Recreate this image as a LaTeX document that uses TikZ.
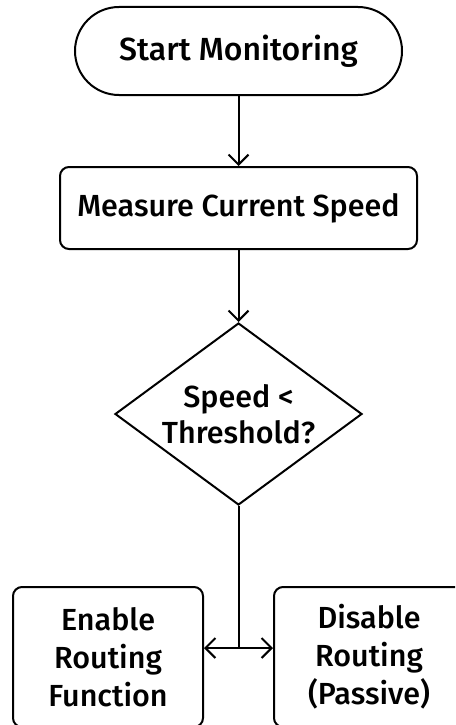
\documentclass[tikz,border=0pt]{standalone}
\usepackage{fontspec}
\setmainfont{Fira Sans Medium}
\usetikzlibrary{arrows.meta, shapes.geometric}

\tikzset{
  flowline/.style={line width=2pt},
  txt/.style={font=\fontsize{30.5}{38}\selectfont, align=center},
  terminal/.style={flowline, draw, rounded corners=44pt, minimum width=327pt, minimum height=88pt, inner sep=0pt},
  process/.style={flowline, draw, rounded corners=9pt, inner sep=0pt},
  decision/.style={flowline, draw, diamond, aspect=1.357, minimum width=247pt, minimum height=182pt, inner sep=0pt}
}

\begin{document}
\begin{tikzpicture}[x=1pt, y=-1pt, >={Straight Barb[length=10pt, width=20pt, line width=2pt]}]
  \useasboundingbox (0,0) rectangle (455,725);
  \begin{scope}
  \clip (0,0) rectangle (455,725);
  \node[terminal, txt, font=\fontsize{32}{38}\selectfont] (start) at (238.5,51) {Start Monitoring};
  \node[process, txt, minimum width=357pt, minimum height=82pt] (measure) at (238.5,208) {Measure Current Speed};
  \node[decision, txt, font=\fontsize{30.5}{36}\selectfont] (check) at (238.5,414) {Speed <\\Threshold?};
  \node[process, txt, minimum width=190pt, minimum height=140pt] (enable) at (108,657) {Enable\\Routing\\Function};
  \node[process, txt, minimum width=190pt, minimum height=140pt] (disable) at (369,657) {Disable\\Routing\\(Passive)};
  \coordinate (split) at (238.5,648);

  \draw[flowline, ->] (start) -- (measure);
  \draw[flowline, ->] (measure) -- (check);
  \draw[flowline] (check.south) -- (split);
  \draw[flowline, <->] (enable.east |- split) -- (disable.west |- split);
  \end{scope}
\end{tikzpicture}
\end{document}
